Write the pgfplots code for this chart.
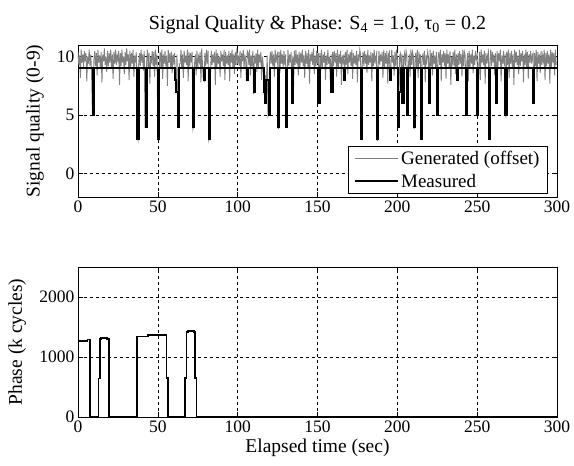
\documentclass[border=0pt]{standalone}
\usepackage{fontspec}
\setmainfont{Liberation Serif}
\usepackage{pgfplots}
\pgfplotsset{compat=1.18}
\usepackage{pgfplotstable}

\pgfplotsset{
  myaxis/.style={
    scale only axis, width=479pt, xmin=0, xmax=300,
    xtick={0,50,...,300},
    tick align=inside, tick pos=both, major tick length=5pt,
    grid=major,
    major grid style={black, line width=0.5pt, dash pattern=on 3pt off 3pt},
    axis line style={line width=0.7pt},
    every tick/.style={black, line width=0.6pt},
    tick label style={font=\fontsize{17.5}{20}\selectfont},
    label style={font=\fontsize{19.5}{22}\selectfont},
    /pgf/number format/assume math mode=true,
    /pgf/number format/1000 sep={},
  }
}

\begin{document}
\begin{tikzpicture}
\useasboundingbox (-78pt,-49pt) rectangle (496pt,417pt);
\begin{axis}[myaxis, at={(0,220pt)}, height=152pt,
  ymin=-2, ymax=11, ytick={0,5,10},
  ylabel={Signal quality (0-9)},
  ylabel style={at={(axis description cs:-0.09,0.5)}, anchor=center},
  title={Signal Quality \& Phase: S\textsubscript{4} = 1.0, τ\textsubscript{0} = 0.2},
  title style={font=\fontsize{20}{24}\selectfont, yshift=2pt},
  legend cell align=left,
  legend style={at={(0.981,0.02)}, anchor=south east, draw=black, line width=0.7pt,
    font=\fontsize{19}{22}\selectfont, inner xsep=6pt, inner ysep=3pt, row sep=4pt},
  legend image code/.code={\draw[#1] (0pt,0pt) -- (43pt,0pt);},
]
\addplot[black!50, line width=0.9pt] table[x expr=\coordindex*0.5, y index=0, header=false, row sep=\\] {
10.4\\9.3\\10.1\\8.2\\10.6\\9.5\\10.2\\9.1\\10.5\\9.6\\10.3\\7.9\\10.0\\9.4\\10.6\\9.2\\10.2\\8.6\\5.1\\6.9\\
9.8\\10.5\\9.2\\10.3\\8.4\\10.6\\9.5\\10.1\\9.0\\10.4\\7.8\\10.2\\9.6\\10.7\\9.3\\10.0\\8.7\\10.5\\9.2\\10.3\\
9.5\\10.6\\9.1\\10.2\\8.1\\10.4\\9.4\\10.6\\9.3\\10.1\\9.7\\10.5\\7.6\\10.3\\9.2\\10.6\\9.5\\10.0\\8.5\\10.4\\
9.3\\10.7\\9.6\\10.2\\8.0\\10.5\\9.1\\10.3\\9.4\\10.6\\8.3\\10.1\\9.5\\10.4\\3.2\\2.9\\9.4\\10.3\\9.2\\10.6\\
9.5\\10.2\\8.8\\10.5\\4.1\\4.3\\9.6\\10.6\\9.1\\10.3\\7.7\\10.0\\9.6\\10.5\\9.2\\10.4\\8.3\\10.6\\9.3\\10.2\\
3.1\\3.3\\9.5\\10.4\\9.0\\10.6\\8.1\\10.2\\9.4\\10.5\\9.2\\10.1\\7.5\\10.6\\9.5\\10.3\\9.1\\10.4\\8.6\\10.2\\
9.6\\10.3\\8.0\\7.1\\10.2\\4.2\\4.1\\9.4\\9.4\\10.6\\9.0\\10.2\\8.2\\10.5\\9.5\\10.1\\9.3\\10.6\\7.9\\10.4\\
9.2\\10.3\\9.5\\10.4\\3.8\\4.1\\9.4\\10.2\\8.4\\10.5\\9.1\\10.0\\9.6\\10.4\\7.8\\10.7\\9.3\\8.0\\7.9\\10.3\\
9.2\\10.6\\9.4\\10.5\\2.9\\3.2\\8.6\\10.5\\9.3\\10.2\\9.5\\10.4\\7.6\\10.6\\9.1\\10.3\\9.4\\10.0\\8.3\\10.5\\
9.6\\10.2\\9.2\\10.6\\8.0\\10.4\\9.4\\10.1\\9.3\\10.5\\7.9\\10.3\\9.5\\10.6\\9.1\\10.2\\8.5\\10.4\\9.3\\10.7\\
9.4\\10.1\\9.2\\10.5\\8.2\\10.3\\9.6\\10.6\\9.0\\10.2\\9.7\\7.9\\10.5\\10.4\\9.3\\10.6\\8.4\\10.1\\9.2\\10.5\\
6.8\\10.1\\9.4\\10.3\\8.7\\10.6\\9.1\\10.2\\9.5\\10.4\\8.0\\10.0\\9.3\\7.2\\6.1\\8.2\\7.9\\10.1\\4.9\\5.1\\
9.6\\10.4\\9.4\\10.5\\9.2\\10.2\\8.3\\10.6\\9.5\\10.1\\10.3\\3.8\\10.4\\8.6\\10.6\\9.4\\10.2\\9.1\\10.5\\9.3\\
10.2\\4.2\\8.1\\10.6\\9.2\\10.2\\9.5\\10.4\\6.0\\10.1\\7.5\\10.5\\9.3\\10.6\\9.4\\10.2\\8.4\\10.4\\9.1\\10.3\\
9.5\\10.6\\9.2\\10.1\\8.2\\10.5\\9.4\\10.3\\9.0\\10.6\\7.7\\10.2\\9.6\\10.4\\9.3\\10.7\\8.5\\10.1\\9.2\\10.5\\
9.4\\10.3\\6.2\\10.3\\8.8\\10.6\\9.1\\10.2\\9.5\\10.4\\8.0\\10.1\\9.3\\10.6\\9.4\\10.0\\7.9\\10.2\\7.1\\10.4\\
9.2\\10.5\\9.5\\10.3\\8.3\\10.6\\9.1\\10.2\\9.4\\10.5\\7.6\\10.1\\9.6\\10.2\\8.1\\10.4\\9.3\\10.6\\8.5\\10.2\\
9.5\\10.4\\9.2\\10.6\\8.1\\10.3\\9.4\\10.1\\9.3\\10.5\\7.8\\10.2\\9.6\\10.6\\10.1\\3.1\\9.3\\10.4\\9.2\\10.5\\
9.4\\10.2\\8.6\\10.6\\9.3\\10.1\\9.5\\10.4\\7.9\\10.3\\9.2\\10.6\\9.4\\10.0\\10.3\\2.8\\9.2\\10.5\\9.3\\10.2\\
9.6\\10.4\\8.2\\10.6\\9.1\\10.3\\9.4\\10.5\\7.7\\10.2\\10.4\\8.1\\9.3\\10.6\\9.5\\10.1\\8.4\\10.4\\9.2\\10.6\\
9.9\\4.1\\7.1\\10.1\\10.3\\9.0\\10.2\\6.1\\9.9\\10.3\\9.2\\10.5\\10.1\\5.1\\9.4\\10.2\\8.3\\10.6\\9.3\\10.4\\
10.1\\3.8\\9.5\\10.3\\9.1\\10.6\\8.2\\10.4\\9.4\\10.2\\3.1\\10.0\\10.2\\9.3\\10.5\\7.8\\10.1\\9.6\\10.4\\9.9\\
6.1\\10.6\\9.2\\10.3\\8.4\\10.5\\9.4\\10.1\\9.0\\10.4\\5.1\\9.9\\10.4\\9.3\\10.6\\7.9\\10.2\\9.5\\10.5\\9.2\\
10.3\\8.1\\10.6\\9.4\\10.2\\9.1\\10.5\\7.6\\10.0\\9.5\\10.4\\9.2\\10.6\\8.5\\10.2\\8.0\\10.3\\9.3\\10.5\\9.4\\
10.2\\8.3\\10.6\\9.2\\10.4\\10.1\\5.1\\9.5\\10.3\\7.9\\10.5\\9.1\\10.2\\9.4\\10.6\\8.6\\10.1\\9.3\\10.5\\9.8\\
10.1\\5.0\\9.2\\10.4\\8.0\\10.6\\9.5\\10.2\\9.3\\10.5\\7.7\\10.3\\9.4\\10.1\\10.4\\3.1\\9.6\\10.6\\9.2\\10.4\\
9.5\\10.2\\8.4\\10.3\\6.1\\10.5\\9.1\\10.3\\9.6\\10.6\\7.9\\10.1\\9.4\\10.5\\9.2\\10.2\\4.8\\10.4\\9.3\\10.6\\
8.2\\10.3\\9.4\\10.5\\9.1\\10.2\\7.6\\10.6\\9.5\\10.4\\9.3\\10.1\\8.5\\10.6\\9.2\\10.3\\9.6\\10.5\\7.8\\10.2\\
9.3\\10.6\\9.1\\10.4\\8.1\\10.2\\9.5\\10.5\\9.4\\10.1\\10.3\\6.1\\10.3\\9.2\\10.6\\7.9\\10.4\\9.4\\10.2\\8.6\\
10.5\\9.3\\10.1\\9.6\\10.6\\8.0\\10.3\\9.2\\10.5\\9.4\\10.2\\7.7\\10.6\\9.1\\10.4\\9.5\\10.3\\8.4\\10.6\\9.3\\
};
\addlegendentry{Generated (offset)}
\addplot[black, line width=2pt, const plot] coordinates {
(0,9)(9.3,5)(10.1,9)(37.2,3)(38,9)(42.3,4)(43.1,9)(50.2,3)(51,9)(61,8)(61.6,7)(62.4,4)(63.3,9)
(71.8,4)(72.6,9)(78.7,8)(79.3,9)(81.8,3)(82.6,9)(105.7,8)(106.3,9)(110.2,7)(110.9,9)
(116.5,7)(117,6)(117.8,8)(119.5,5)(120.3,9)(125.3,4)(126.1,9)(130.3,4)(131.1,9)(134.2,6)(134.9,9)
(150.6,6)(151.3,9)(158.7,7)(159.4,9)(166.7,8)(167.3,9)(177.3,3)(178.1,9)(187.3,3)(188.1,9)
(195.2,8)(195.8,9)(200.2,4)(201,7)(202.5,9)(203.2,6)(204,9)(206,5)(206.8,9)(210.2,4)(211,9)
(214.8,3)(215.6,9)(219.6,6)(220.3,9)(224.8,5)(225.6,9)(237.2,8)(237.8,9)(242.7,5)(243.4,9)
(249.8,5)(250.6,9)(257.3,3)(258.1,9)(261.7,6)(262.4,9)(267.7,5)(268.4,9)(285.2,6)(285.9,9)(300,9)};
\addlegendentry{Measured}
\end{axis}

\begin{axis}[myaxis, at={(0,0)}, height=150pt,
  ymin=0, ymax=2500, ytick={0,1000,2000},
  xlabel={Elapsed time (sec)},
  ylabel={Phase (k cycles)},
  ylabel style={at={(axis description cs:-0.127,0.5)}, anchor=center},
]
\addplot[black, line width=1.8pt, const plot] coordinates {
(0,1270)(6,1290)(7.3,0)(12.8,640)(13.8,1300)(14.5,1320)(18,1300)(19.4,0)
(37,1340)(44,1365)(55.4,650)(56.3,0)(67,650)(68,1410)(69,1430)(72.5,1410)
(73.2,650)(74.2,0)(300,0)};
\end{axis}
\end{tikzpicture}
\end{document}
